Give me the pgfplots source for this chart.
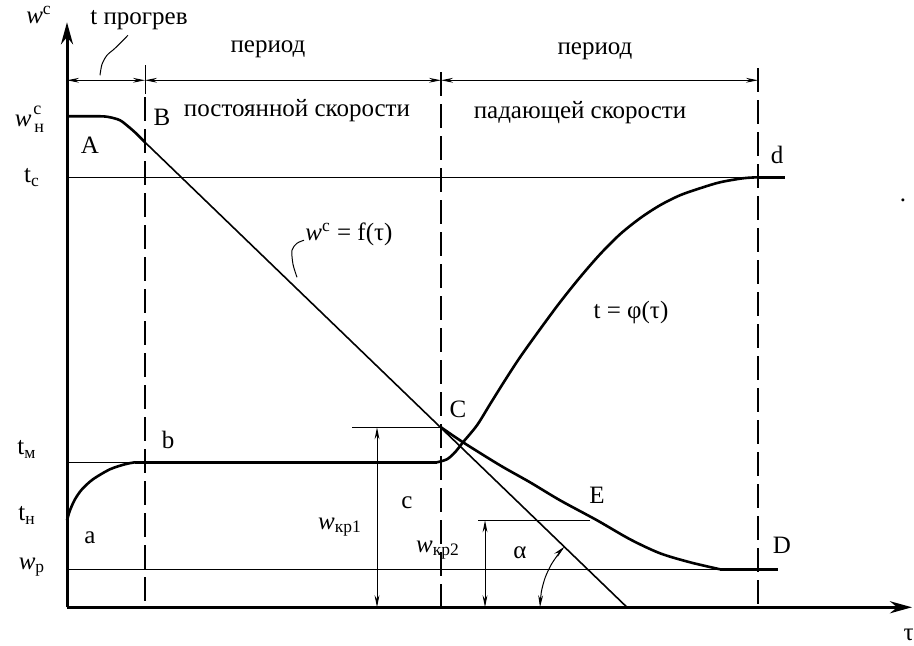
\documentclass[border=0pt]{standalone}
\usepackage{pgfplots}
\pgfplotsset{compat=1.18}
\usepackage{fontspec}
\setmainfont{Liberation Serif}
\usetikzlibrary{arrows.meta}

% one axis unit = one pixel of the 914x643 sketch, y measured downwards
\begin{document}
\begin{tikzpicture}[font=\fontsize{12.5}{14}\selectfont]
\begin{axis}[
  scale only axis, width=457pt, height=321.5pt,
  xmin=0, xmax=914, ymin=0, ymax=643, y dir=reverse,
  hide axis, clip=false,
  fine/.style={black, line width=0.5pt},
  main/.style={black, line width=1.3pt, smooth},
  gap/.style={black, line width=0.6pt, dash pattern=on 12pt off 4pt},
  dim/.style={black, line width=0.5pt,
    {Stealth[length=6pt,width=2.4pt]}-{Stealth[length=6pt,width=2.4pt]}},
]
\addplot[draw=none] coordinates {(0,0) (914,643)};

% axes
\addplot[black, line width=1.5pt, -{Stealth[length=11pt,width=6pt]}]
  coordinates {(67,605) (67,20)};
\addplot[black, line width=1.5pt, -{Stealth[length=11pt,width=6pt]}]
  coordinates {(67,605) (912,605)};

% period boundaries
\addplot[gap] coordinates {(145,95) (145,605)};
\addplot[gap] coordinates {(441,70) (441,605)};
\addplot[gap] coordinates {(758,66) (758,605)};
\addplot[fine] coordinates {(145,63) (145,92)};

% top dimension line
\addplot[dim] coordinates {(67,78) (145,78)};
\addplot[dim] coordinates {(145,78) (441,78)};
\addplot[dim] coordinates {(441,78) (758,78)};

% reference levels
\addplot[fine] coordinates {(67,175) (785,175)};
\addplot[fine] coordinates {(67,460) (135,460)};
\addplot[fine] coordinates {(67,567) (778,567)};

% moisture curve w^c = f(tau)
\addplot[main] coordinates {(67,114) (100,114) (110,115) (120,118) (128,124) (136,131) (145,140)};
\addplot[black, line width=0.8pt] coordinates {(145,140) (627,605)};
\addplot[main] coordinates {(441,425) (463,440) (500,463) (530,480) (560,498)
  (597,518) (630,537) (660,551) (690,560) (720,567)};
\addplot[black, line width=1.3pt] coordinates {(720,567) (778,567)};

% temperature curve t = phi(tau)
\addplot[main] coordinates {(67,518) (70,508) (75,497) (82,487) (93,477)
  (110,467) (125,462) (135,460)};
\addplot[black, line width=1.3pt] coordinates {(135,460) (437,460)};
\addplot[main] coordinates {(437,460) (447,457) (455,450) (463,440) (477,423)
  (490,402) (505,378) (520,355) (540,327) (560,300) (580,275) (600,252)
  (620,232) (640,216) (660,203) (680,193) (700,186) (720,180) (743,176) (758,175)};
\addplot[black, line width=1.3pt] coordinates {(758,175) (785,175)};

% critical moisture contents
\addplot[fine] coordinates {(352,425) (441,425)};
\addplot[dim] coordinates {(377,425) (377,605)};
\addplot[fine] coordinates {(478,518) (590,518)};
\addplot[dim] coordinates {(485,518) (485,605)};

% angle alpha
\addplot[dim, smooth] coordinates {(540,605) (541.3,589.9) (545.2,575.2)
  (551.7,561.5) (560.4,549.1) (564.4,544.5)};

% leaders
\addplot[fine, smooth] coordinates {(100,73) (102,62) (107,53) (115,46) (128,33)};
\addplot[fine, smooth] coordinates {(297,275) (293,262) (292,248) (297,241) (304,238)};

% labels
\node at (axis cs:39,13) {\textit{w}\textsuperscript{c}};
\node at (axis cs:139,18) {t прогрев};
\node at (axis cs:268,47) {период};
\node at (axis cs:595,49) {период};
\node at (axis cs:297,108) {постоянной скорости};
\node at (axis cs:580,110) {падающей скорости};
\node[anchor=east, inner sep=0pt] at (axis cs:32,119) {\textit{w}};
\node[anchor=south west, inner sep=0pt, font=\fontsize{9}{10}\selectfont] at (axis cs:33,113) {c};
\node[anchor=north west, inner sep=0pt, font=\fontsize{9}{10}\selectfont] at (axis cs:34,122) {н};
\node at (axis cs:90,143) {A};
\node at (axis cs:162,115) {B};
\node at (axis cs:32,175) {t\textsubscript{с}};
\node at (axis cs:777,153) {d};
\node at (axis cs:349,232) {\textit{w}\textsuperscript{c} = f(τ)};
\node at (axis cs:631,310) {t = φ(τ)};
\node at (axis cs:458,407) {C};
\node at (axis cs:27,447) {t\textsubscript{м}};
\node at (axis cs:168,438) {b};
\node at (axis cs:27,513) {t\textsubscript{н}};
\node at (axis cs:90,535) {a};
\node at (axis cs:32,565) {\textit{w}\textsubscript{р}};
\node at (axis cs:407,500) {c};
\node at (axis cs:597,493) {E};
\node at (axis cs:340,525) {\textit{w}\textsubscript{кр1}};
\node at (axis cs:438,548) {\textit{w}\textsubscript{кр2}};
\node at (axis cs:520,550) {α};
\node at (axis cs:782,543) {D};
\node[anchor=east, inner sep=0pt] at (axis cs:914,633) {τ};
\node at (axis cs:903,198) {.};
\end{axis}
\end{tikzpicture}
\end{document}
